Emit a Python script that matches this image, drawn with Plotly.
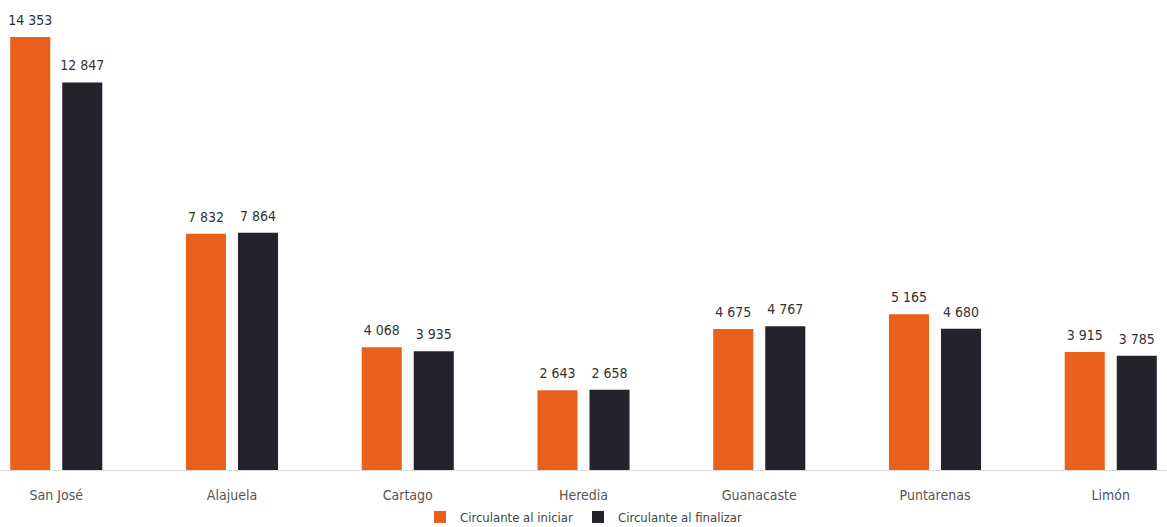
import plotly.graph_objects as go

categories = ["San José", "Alajuela", "Cartago", "Heredia", "Guanacaste", "Puntarenas", "Limón"]
inicio = [14353, 7832, 4068, 2643, 4675, 5165, 3915]
final = [12847, 7864, 3935, 2658, 4767, 4680, 3785]
series_names = ["Circulante al iniciar", "Circulante al finalizar"]
colors = ["#E9601D", "#24232A"]

def fmt(v):
    return f"{v:,}".replace(",", " ")

FONT = "Liberation Sans Narrow, DejaVu Sans Condensed, Arial Narrow, sans-serif"

fig = go.Figure()
for i, (vals, name, col) in enumerate(zip([inicio, final], series_names, colors)):
    fig.add_trace(go.Bar(x=categories, y=vals, name=name,
                         marker=dict(color=col, line=dict(width=0)),
                         offsetgroup=str(i), hoverinfo="skip"))
for i, vals in enumerate([inicio, final]):
    fig.add_trace(go.Scatter(x=categories, y=vals, mode="markers+text",
                             text=[fmt(v) for v in vals], textposition="top center",
                             textfont=dict(size=14, color="#333333", family=FONT),
                             marker=dict(size=12, color="rgba(0,0,0,0)"),
                             offsetgroup=str(i), showlegend=False,
                             cliponaxis=False, hoverinfo="skip"))

fig.update_layout(
    width=1167, height=527,
    margin=dict(l=0, r=0, t=0, b=57, autoexpand=False),
    paper_bgcolor="white", plot_bgcolor="white",
    barmode="group", bargap=0.408, bargroupgap=0.23,
    scattermode="group", scattergap=0.408,
    font=dict(family=FONT, size=14, color="#555555"),
    showlegend=True,
    legend=dict(orientation="h", x=0.5, xanchor="center",
                y=-0.1, yanchor="middle",
                bgcolor="rgba(0,0,0,0)",
                font=dict(size=13, color="#444444", family=FONT),
                itemwidth=30, tracegroupgap=0),
)
fig.update_xaxes(range=[-0.32, 6.32], showline=True, linecolor="#D9D9D9", linewidth=1,
                 ticks="", showgrid=False, tickfont=dict(size=14, color="#555555"),
                 ticklabelstandoff=12)
fig.update_yaxes(range=[0, 15580], visible=False, showgrid=False, zeroline=False)

fig.write_html("out.html", config={"displayModeBar": False},
               post_script="document.body.style.margin='0';document.body.style.overflow='hidden';")
